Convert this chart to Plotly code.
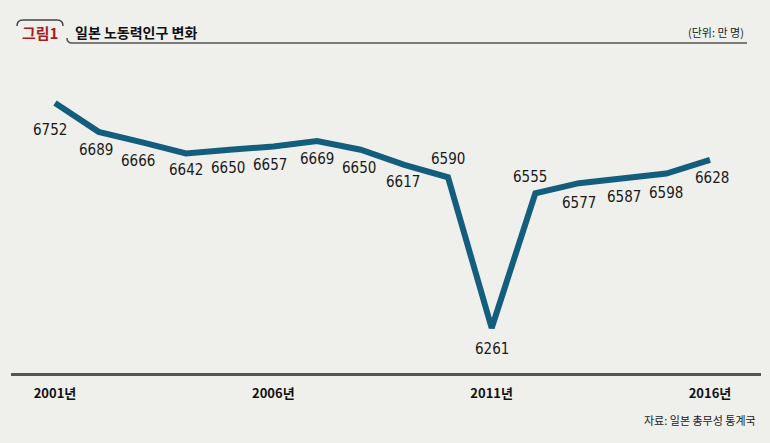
import plotly.graph_objects as go

years = list(range(2001, 2017))
labor_force = [6752, 6689, 6666, 6642, 6650, 6657, 6669, 6650, 6617, 6590,
               6261, 6555, 6577, 6587, 6598, 6628]
tick_years = [2001, 2006, 2011, 2016]
tick_labels = ["2001년", "2006년", "2011년", "2016년"]

# label offsets (styling only): (xshift, yshift) in pixels
label_shift = [(-5, -27), (-3, -18), (-4, -19), (0, -17), (-2, -18), (-3, -18),
               (0, -18), (-2, -18), (-1, -17), (0, 18), (0, -21), (-5, 16),
               (0, -20), (1, -18), (0, -19), (2, -18)]

W, H = 770, 443
L, R, T, B = 11, 9, 50, 70
PW, PH = W - L - R, H - T - B
BG = "#efefeb"
LINE = "#135e7c"
NARROW = "Liberation Sans Narrow, Arial Narrow, DejaVu Sans Condensed, sans-serif"
KR = "Noto Sans CJK KR, sans-serif"


def px(x):
    return (x - L) / PW


def py(y):
    return (H - B - y) / PH


fig = go.Figure()
fig.add_trace(go.Scatter(
    x=years, y=labor_force, mode="lines",
    line=dict(color=LINE, width=6),
    hoverinfo="x+y", showlegend=False,
))

shapes = [
    dict(type="path", xref="paper", yref="paper",
         path=f"M {px(67)} {py(38)} Q {px(67)} {py(43)} {px(72)} {py(43)} L {px(747)} {py(43)}",
         line=dict(color="#555555", width=1.5)),
    dict(type="path", xref="paper", yref="paper",
         path=(f"M {px(17)} {py(26)} Q {px(17)} {py(20)} {px(23)} {py(20)} "
               f"L {px(57)} {py(20)} Q {px(63)} {py(20)} {px(63)} {py(26)}"),
         line=dict(color="#444444", width=1.5)),
]

annotations = [
    dict(text="<b>그림1</b>", xref="paper", yref="paper", x=px(40), y=py(32),
         xanchor="center", yanchor="middle", showarrow=False,
         font=dict(family=KR, size=15, color="#a51e25")),
    dict(text="<b>일본 노동력인구 변화</b>", xref="paper", yref="paper", x=px(73), y=py(32),
         xanchor="left", yanchor="middle", showarrow=False,
         font=dict(family=KR, size=14, color="#111111")),
    dict(text="(단위: 만 명)", xref="paper", yref="paper", x=px(746), y=py(32),
         xanchor="right", yanchor="middle", showarrow=False,
         font=dict(family=KR, size=11, color="#222222")),
    dict(text="자료: 일본 총무성 통계국", xref="paper", yref="paper", x=px(758), y=py(420),
         xanchor="right", yanchor="middle", showarrow=False,
         font=dict(family=KR, size=11, color="#222222")),
]
for yr, v, (dx, dy) in zip(years, labor_force, label_shift):
    annotations.append(dict(
        x=yr, y=v, xref="x", yref="y", text=str(v), showarrow=False,
        xanchor="center", yanchor="middle", xshift=dx, yshift=dy,
        font=dict(family=NARROW, size=15, color="#1a1a1a")))

x0 = 2001 - (55 - L) / 43.67
x1 = 2016 + (W - R - 710) / 43.67
scale = (328 - 103) / (max(labor_force) - min(labor_force))
y_top = max(labor_force) + (103 - T) / scale
y_bot = min(labor_force) - (H - B - 328) / scale

fig.update_layout(
    width=W, height=H,
    margin=dict(l=L, r=R, t=T, b=B),
    paper_bgcolor=BG, plot_bgcolor=BG,
    shapes=shapes, annotations=annotations,
    xaxis=dict(range=[x0, x1], tickvals=tick_years, ticktext=[f"<b>{t}</b>" for t in tick_labels],
               showgrid=False, zeroline=False, showline=True,
               linecolor="#555555", linewidth=2.5, ticks="",
               ticklabelstandoff=7,
               tickfont=dict(family=KR, size=13, color="#111111")),
    yaxis=dict(range=[y_bot, y_top], visible=False, showgrid=False, zeroline=False),
)

fig.write_html("out.html", config={"displayModeBar": False},
               post_script="document.body.style.margin='0';document.body.style.background='" + BG + "';")
